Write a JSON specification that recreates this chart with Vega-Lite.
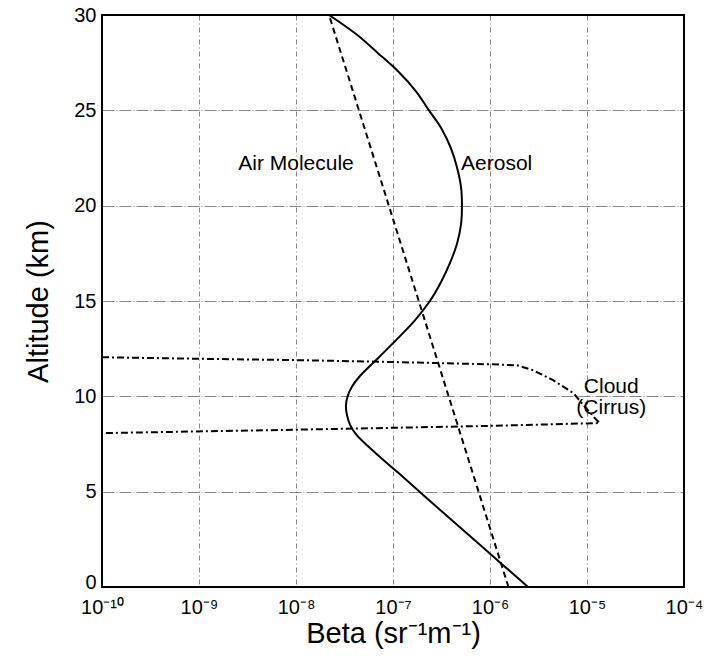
{
  "$schema": "https://vega.github.io/schema/vega-lite/v6.json",
  "width": 582,
  "height": 572,
  "autosize": {"type": "none"},
  "padding": {"left": 102, "top": 15, "right": 35, "bottom": 71},
  "background": "white",
  "config": {
    "font": "Liberation Sans",
    "view": {"stroke": "black", "strokeWidth": 2}
  },
  "datasets": {
    "molecule": [
      {"beta": 1.55e-6, "alt": 0},
      {"beta": 2.19e-8, "alt": 30}
    ],
    "aerosol": [
      {"beta": 2.47e-6, "alt": 0},
      {"beta": 8.77e-7, "alt": 2},
      {"beta": 3.13e-7, "alt": 4},
      {"beta": 1.127e-7, "alt": 6},
      {"beta": 6.68e-8, "alt": 7},
      {"beta": 4.16e-8, "alt": 8},
      {"beta": 3.61e-8, "alt": 8.5},
      {"beta": 3.36e-8, "alt": 9},
      {"beta": 3.27e-8, "alt": 9.5},
      {"beta": 3.4e-8, "alt": 10},
      {"beta": 3.77e-8, "alt": 10.5},
      {"beta": 4.45e-8, "alt": 11},
      {"beta": 7.0e-8, "alt": 12},
      {"beta": 1.1e-7, "alt": 13},
      {"beta": 1.69e-7, "alt": 14},
      {"beta": 2.4e-7, "alt": 15},
      {"beta": 3.13e-7, "alt": 16},
      {"beta": 3.87e-7, "alt": 17},
      {"beta": 4.57e-7, "alt": 18},
      {"beta": 5.02e-7, "alt": 19},
      {"beta": 5.14e-7, "alt": 20},
      {"beta": 5.02e-7, "alt": 21},
      {"beta": 4.57e-7, "alt": 22},
      {"beta": 3.96e-7, "alt": 23},
      {"beta": 3.2e-7, "alt": 24},
      {"beta": 2.35e-7, "alt": 25},
      {"beta": 1.726e-7, "alt": 26},
      {"beta": 1.153e-7, "alt": 27},
      {"beta": 7.0e-8, "alt": 28},
      {"beta": 4.16e-8, "alt": 29},
      {"beta": 2.19e-8, "alt": 30}
    ],
    "cloud": [
      {"i": 1, "beta": 1e-10, "alt": 12.05},
      {"i": 2, "beta": 1e-9, "alt": 11.97},
      {"i": 3, "beta": 1e-8, "alt": 11.9},
      {"i": 4, "beta": 1e-7, "alt": 11.8},
      {"i": 5, "beta": 1e-6, "alt": 11.68},
      {"i": 6, "beta": 1.9e-6, "alt": 11.63},
      {"i": 7, "beta": 2.75e-6, "alt": 11.38},
      {"i": 8, "beta": 4.47e-6, "alt": 10.85},
      {"i": 9, "beta": 7.24e-6, "alt": 10.17},
      {"i": 10, "beta": 9.55e-6, "alt": 9.44},
      {"i": 11, "beta": 1.2e-5, "alt": 8.86},
      {"i": 12, "beta": 1.35e-5, "alt": 8.6},
      {"i": 13, "beta": 1e-6, "alt": 8.45},
      {"i": 14, "beta": 1e-8, "alt": 8.25},
      {"i": 15, "beta": 1e-10, "alt": 8.07}
    ],
    "labels": [
      {"beta": 1e-8, "alt": 22.2, "text": "Air Molecule"},
      {"beta": 1.17e-6, "alt": 22.2, "text": "Aerosol"},
      {"beta": 1.78e-5, "alt": 10.5, "text": "Cloud"},
      {"beta": 1.78e-5, "alt": 9.4, "text": "(Cirrus)"}
    ]
  },
  "encoding": {
    "x": {
      "field": "beta",
      "type": "quantitative",
      "scale": {"type": "log", "domain": [1e-10, 1e-4], "nice": false},
      "axis": {
        "values": [1e-10, 1e-9, 1e-8, 1e-7, 1e-6, 1e-5, 1e-4],
        "labelExpr": "datum.value < 5e-10 ? '10⁻¹⁰' : datum.value < 5e-9 ? '10⁻⁹' : datum.value < 5e-8 ? '10⁻⁸' : datum.value < 5e-7 ? '10⁻⁷' : datum.value < 5e-6 ? '10⁻⁶' : datum.value < 5e-5 ? '10⁻⁵' : '10⁻⁴'",
        "title": "Beta (sr⁻¹m⁻¹)",
        "titleFontSize": 29,
        "titleFontWeight": "normal",
        "titleColor": "black",
        "titlePadding": 2,
        "labelFontSize": 20,
        "labelColor": "black",
        "labelPadding": 10,
        "labelFlush": false,
        "ticks": false,
        "domain": false,
        "grid": true,
        "gridColor": "black",
        "gridWidth": 0.8,
        "gridDash": [5, 3, 1, 3],
        "gridOpacity": 0.6
      }
    },
    "y": {
      "field": "alt",
      "type": "quantitative",
      "scale": {"domain": [0, 30], "nice": false, "zero": false},
      "axis": {
        "values": [0, 5, 10, 15, 20, 25, 30],
        "title": "Altitude (km)",
        "titleFontSize": 29,
        "titleFontWeight": "normal",
        "titleColor": "black",
        "titlePadding": 20,
        "labelFontSize": 20,
        "labelColor": "black",
        "labelPadding": 6,
        "labelOffset": {"condition": {"test": "datum.value === 0", "value": -5}, "value": 0},
        "labelFlush": false,
        "ticks": false,
        "domain": false,
        "grid": true,
        "gridColor": "black",
        "gridWidth": 0.8,
        "gridDash": [12, 2, 1, 2],
        "gridOpacity": 0.6
      }
    }
  },
  "layer": [
    {
      "data": {"name": "molecule"},
      "mark": {"type": "line", "color": "black", "strokeWidth": 2, "strokeDash": [6, 4]},
      "encoding": {"order": {"field": "alt", "type": "quantitative"}}
    },
    {
      "data": {"name": "aerosol"},
      "mark": {"type": "line", "color": "black", "strokeWidth": 2, "interpolate": "catmull-rom"},
      "encoding": {"order": {"field": "alt", "type": "quantitative"}}
    },
    {
      "data": {"name": "cloud"},
      "mark": {"type": "line", "color": "black", "strokeWidth": 2, "strokeDash": [7, 3, 2, 3]},
      "encoding": {"order": {"field": "i", "type": "quantitative"}}
    },
    {
      "data": {"name": "labels"},
      "mark": {"type": "text", "fontSize": 21, "color": "black", "align": "center", "baseline": "middle"},
      "encoding": {"text": {"field": "text", "type": "nominal"}}
    }
  ]
}
